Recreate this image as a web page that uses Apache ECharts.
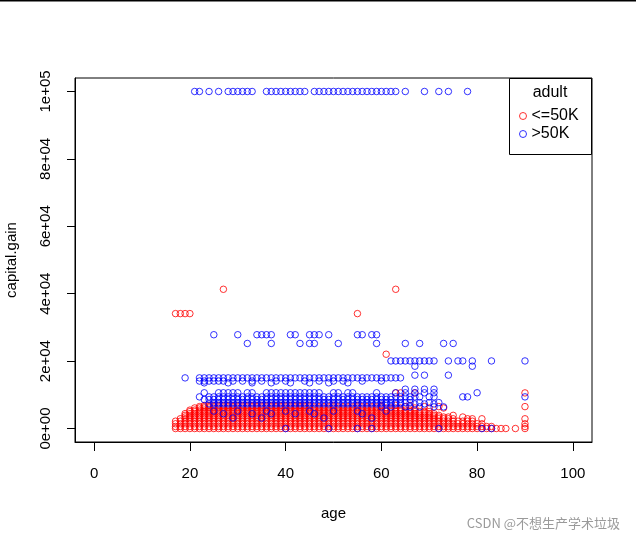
<!DOCTYPE html>
<html><head><meta charset="utf-8">
<script src="https://cdn.jsdelivr.net/npm/echarts@6/dist/echarts.min.js"></script>
<style>html,body{margin:0;padding:0;background:#fff}#c{width:636px;height:540px}</style>
</head><body><div id="c"></div>
<script>
// ---- axes ----
const xTickValues = [0, 20, 40, 60, 80, 100];
const xTickLabels = ['0', '20', '40', '60', '80', '100'];
const yTickValues = [0, 20000, 40000, 60000, 80000, 100000];
const yTickLabels = ['0e+00', '2e+04', '4e+04', '6e+04', '8e+04', '1e+05'];
const xTitle = 'age';
const yTitle = 'capital.gain';
const legendTitle = 'adult';
const legendNames = ['<=50K', '>50K'];

// ---- <=50K : ages observed at each capital.gain level ----
const red_0 = [17,18,19,20,21,22,23,24,25,26,27,28,29,30,31,32,33,34,35,36,37,38,39,40,41,42,43,44,45,46,47,48,49,50,51,52,53,54,55,56,57,58,59,60,61,62,63,64,65,66,67,68,69,70,71,72,73,74,75,76,77,78,79,80,81,82,83,84,85,86,88,90];
const red_594 = [17,18,19,20,21,22,23,24,25,26,27,28,29,30,31,32,33,34,35,36,37,38,39,40,41,42,43,44,45,46,47,48,49,50,51,52,53,54,55,56,57,58,59,60,61,62,63,64,65,66,67,68,69,70,71,72,73,74,75,76,77,78,79,80,81,82,83,90];
const red_1408 = [17,18,19,20,21,22,23,24,25,26,27,28,29,30,31,32,33,34,35,36,37,38,39,40,41,42,43,44,45,46,47,48,49,50,51,52,53,54,55,56,57,58,59,60,61,62,63,64,65,66,67,68,69,70,71,72,73,74,75,76,77,78,79,80,81,90];
const red_2174 = [17,18,19,20,21,22,23,24,25,26,27,28,29,30,31,32,33,34,35,36,37,38,39,40,41,42,43,44,45,46,47,48,49,50,51,52,53,54,55,56,57,58,59,60,61,62,63,64,65,66,67,68,69,70,71,72,73,74,75,76,77,78,79];
const red_2885 = [18,19,20,21,22,23,24,25,26,27,28,29,30,31,32,33,34,35,36,37,38,39,40,41,42,43,44,45,46,47,48,49,50,51,52,53,54,55,56,57,58,59,60,61,62,63,64,65,66,67,68,69,70,71,72,73,74,75,78,79,81,90];
const red_3411 = [19,20,21,22,23,24,25,26,27,28,29,30,31,32,33,34,35,36,37,38,39,40,41,42,43,44,45,46,47,48,49,50,51,52,53,54,55,56,57,58,59,60,61,62,63,64,65,66,67,68,69,70,71,72,73,74,77];
const red_3908 = [19,20,21,22,23,24,25,26,27,28,29,30,31,32,33,34,35,36,37,38,39,40,41,42,43,44,45,46,47,48,49,50,51,52,53,54,55,56,57,58,59,60,61,62,63,64,65,66,67,68,69,70,71,72,75];
const red_4416 = [19,20,21,22,23,24,25,26,27,28,29,30,31,32,33,34,35,36,37,38,39,40,41,42,43,44,45,46,47,48,49,50,51,52,53,54,55,56,57,58,59,60,61,62,63,64,65,66,67,68,69,70,71];
const red_5013 = [20,21,22,23,24,25,26,27,28,29,30,31,32,33,34,35,36,37,38,39,40,41,42,43,44,45,46,47,48,49,50,51,52,53,54,55,56,57,58,59,60,61,62,63,64,65,66,67,68,69,70];
const red_5455 = [20,21,22,23,24,25,26,27,28,29,30,31,32,33,34,35,36,37,38,39,40,41,42,43,44,45,46,47,48,49,50,51,52,53,54,55,56,57,58,59,60,61,62,63,64,65,66,67];
const red_6097 = [21,22,23,24,25,26,27,28,29,30,31,32,33,34,35,36,37,38,39,40,41,42,43,44,45,46,47,48,49,50,51,52,53,54,55,56,57,58,59,60,61,62,63,64,67,70,73];
const red_6497 = [22,23,24,25,26,27,28,29,30,31,32,33,34,35,36,37,38,39,40,41,42,43,44,45,46,47,48,49,50,51,52,53,54,55,56,57,58,59,60,65,69,72,90];
const red_6849 = [23,24,25,26,27,28,29,30,31,32,33,34,35,36,37,38,39,40,41,42,43,44,45,50,55,60,63,66];
const red_10566 = [63,64,67,90];
const red_22040 = [61];
const red_34095 = [17,18,19,20,55];
const red_41310 = [27,63];
const redRows = [[0,red_0],[594,red_594],[1408,red_1408],[2174,red_2174],[2885,red_2885],[3411,red_3411],[3908,red_3908],[4416,red_4416],[5013,red_5013],[5455,red_5455],[6097,red_6097],[6497,red_6497],[6849,red_6849],[10566,red_10566],[22040,red_22040],[34095,red_34095],[41310,red_41310]];

// ---- >50K : ages observed at each capital.gain level ----
const blue_0 = [40,49,55,58,72,81,83];
const blue_3103 = [29,35,48,58];
const blue_4386 = [27,33,37,42,46,56];
const blue_5178 = [25,30,36,40,45,50,55,61];
const blue_6418 = [60,62,65,66,68,71,73];
const blue_7298 = [24,25,26,27,28,29,30,31,32,33,34,35,36,37,38,39,40,41,42,43,44,45,46,47,48,49,50,51,52,53,54,55,56,57,58,59,60,61,62,63,64,67,69,71];
const blue_7688 = [25,26,27,28,29,30,31,32,33,34,35,36,37,38,39,40,41,42,43,44,45,46,47,48,49,50,51,52,53,54,55,56,57,58,59,60,61,62,63,64,65,66,68,70,72];
const blue_8614 = [23,24,25,26,27,28,29,30,31,32,33,34,35,36,37,38,39,40,41,42,43,44,45,46,47,48,49,50,51,52,53,54,55,56,57,58,59,60,61,62,64,66];
const blue_9386 = [22,24,25,26,27,28,29,30,31,32,33,34,35,36,37,38,39,40,41,42,43,44,45,46,47,48,49,50,51,52,53,54,55,56,57,58,59,60,61,62,63,64,65,66,67,68,70,71,77,78,90];
const blue_10605 = [23,26,27,28,29,30,32,33,36,37,38,39,40,41,42,43,44,45,46,47,50,51,53,54,59,63,65,67,69,71,80];
const blue_11678 = [65,67,69,71];
const blue_13550 = [23,28,33,37,41,45,49,53];
const blue_14084 = [22,23,24,25,26,27,29,31,33,35,38,40,44,47,50,52,56,60];
const blue_15024 = [19,22,23,24,25,26,27,28,29,30,31,32,33,34,35,36,37,38,39,40,41,42,43,44,45,46,47,48,49,50,51,52,53,54,55,56,57,58,59,60,61,62,63,64];
const blue_15831 = [67,69,74];
const blue_18481 = [67,79];
const blue_20051 = [62,63,64,65,66,67,68,69,70,71,74,76,77,79,83,90];
const blue_25236 = [32,37,43,45,46,51,59,65,68,73,75];
const blue_27828 = [25,30,34,35,36,37,41,42,45,46,47,49,55,56,58,59];
const blue_99999 = [21,22,24,26,28,29,30,31,32,33,36,37,38,39,40,41,42,43,44,46,47,48,49,50,51,52,53,54,55,56,57,58,59,60,61,62,63,65,69,72,74,78];
const blueRows = [[0,blue_0],[3103,blue_3103],[4386,blue_4386],[5178,blue_5178],[6418,blue_6418],[7298,blue_7298],[7688,blue_7688],[8614,blue_8614],[9386,blue_9386],[10605,blue_10605],[11678,blue_11678],[13550,blue_13550],[14084,blue_14084],[15024,blue_15024],[15831,blue_15831],[18481,blue_18481],[20051,blue_20051],[25236,blue_25236],[27828,blue_27828],[99999,blue_99999]];

const toPoints = rows => rows.flatMap(([g, ages]) => ages.map(a => [a, g]));

const FONT = '"Liberation Sans", Arial, sans-serif';
const chart = echarts.init(document.getElementById('c'), null, {renderer: 'canvas'});
chart.setOption({
  animation: false,
  backgroundColor: '#ffffff',
  grid: {left: 75, right: 44, top: 78, bottom: 98, show: true, borderColor: '#000', borderWidth: 1,
         backgroundColor: 'transparent', containLabel: false, outerBoundsMode: 'none'},
  xAxis: {
    type: 'value', min: -4, max: 104,
    name: xTitle, nameLocation: 'middle', nameGap: 64,
    nameTextStyle: {fontFamily: FONT, fontSize: 15, color: '#000'},
    axisLine: {show: true, onZero: false, lineStyle: {color: '#000', width: 1}},
    axisTick: {show: true, length: 9, inside: false, lineStyle: {color: '#000', width: 1}, customValues: xTickValues},
    axisLabel: {customValues: xTickValues, margin: 24, fontFamily: FONT, fontSize: 15, color: '#000',
      formatter: v => xTickLabels[xTickValues.indexOf(v)]},
    splitLine: {show: false}
  },
  yAxis: {
    type: 'value', min: -4000, max: 104000,
    name: yTitle, nameLocation: 'middle', nameGap: 56, nameRotate: 90,
    nameTextStyle: {fontFamily: FONT, fontSize: 15, color: '#000'},
    axisLine: {show: true, onZero: false, lineStyle: {color: '#000', width: 1}},
    axisTick: {show: true, length: 8, lineStyle: {color: '#000', width: 1}, customValues: yTickValues},
    axisLabel: {customValues: yTickValues, rotate: 90, margin: 22, fontFamily: FONT, fontSize: 15, color: '#000',
      formatter: v => yTickLabels[yTickValues.indexOf(v)]},
    splitLine: {show: false}
  },
  legend: {
    data: legendNames, orient: 'vertical', left: 519, top: 108, padding: 0,
    itemWidth: 7, itemHeight: 7, itemGap: 2, icon: 'circle',
    itemStyle: {borderWidth: 1},
    textStyle: {fontFamily: FONT, fontSize: 16, color: '#000'},
    selectedMode: false
  },
  series: [
    {name: legendNames[0], type: 'scatter', symbol: 'circle', symbolSize: 6.5, data: toPoints(redRows),
     itemStyle: {color: 'rgba(0,0,0,0)', borderColor: '#ff0000', borderWidth: 1}, silent: true, large: false},
    {name: legendNames[1], type: 'scatter', symbol: 'circle', symbolSize: 6.5, data: toPoints(blueRows),
     itemStyle: {color: 'rgba(0,0,0,0)', borderColor: '#0000ff', borderWidth: 1}, silent: true, large: false}
  ],
  graphic: [
    {type: 'rect', left: 0, top: 0, shape: {width: 636, height: 1.5}, style: {fill: '#000'}},
    {type: 'rect', shape: {x: 509.5, y: 78.5, width: 82, height: 76}, style: {fill: 'none', stroke: '#000', lineWidth: 1}},
    {type: 'text', x: 550, y: 93, style: {text: legendTitle, font: '16px ' + FONT, fill: '#000', align: 'center', verticalAlign: 'middle'}},
    {type: 'text', x: 620, y: 523, style: {text: 'CSDN @不想生产学术垃圾', font: '13px "Noto Sans CJK SC", sans-serif', fill: '#9a9a9a', align: 'right', verticalAlign: 'middle'}}
  ]
});
</script></body></html>
